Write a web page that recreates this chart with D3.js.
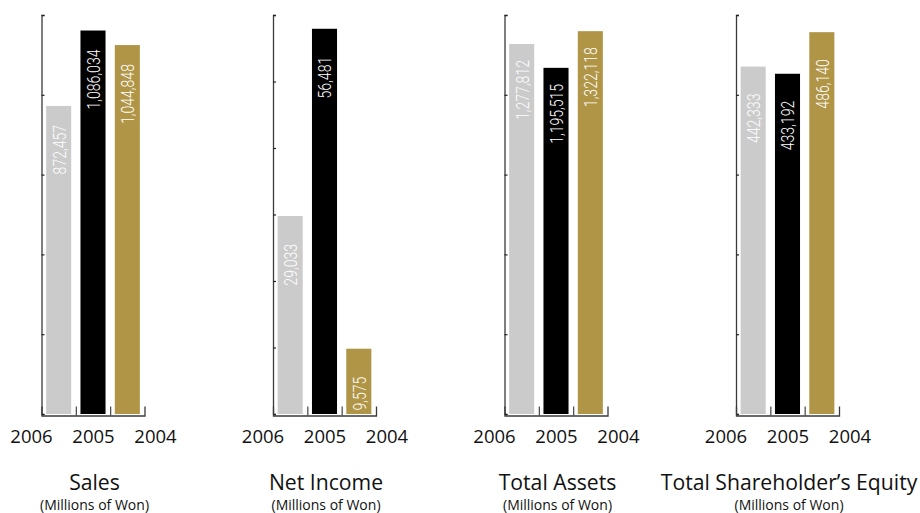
<!DOCTYPE html>
<html>
<head>
<meta charset="utf-8">
<script src="https://cdn.jsdelivr.net/npm/d3@7"></script>
<style>
  html, body { margin: 0; padding: 0; background: #fff; }
  svg { display: block; }
</style>
</head>
<body>
<svg id="chart" width="920" height="513"></svg>
<script>
// ---- data ----
const titles = ["Sales", "Net Income", "Total Assets", "Total Shareholder\u2019s Equity"];
const subtitle = "(Millions of Won)";
const years = ["2006", "2005", "2004"];
const sales = [872457, 1086034, 1044848];
const netIncome = [29033, 56481, 9575];
const totalAssets = [1277812, 1195515, 1322118];
const shareholdersEquity = [442333, 433192, 486140];
const axisMax = [1130000, 58500, 1378000, 508000];
const tickCount = [5, 6, 5, 5];

const seriesList = [sales, netIncome, totalAssets, shareholdersEquity];

// ---- layout / style ----
const colors = ["#cbcbcb", "#000000", "#b09546"];
const labelGap = [19, 28, 16, 27];
const plotTop = 15, plotBase = 414, plotW = 103;

const svg = d3.select("#chart");
const fmt = d3.format(",");

const panelX = d3.scalePoint().domain(titles).range([41.5, 736]);
const x = d3.scaleBand().domain(years).range([0, plotW]).paddingInner(0.27).paddingOuter(0.135);
const yearPos = d3.scalePoint().domain(years).range([-10, 114]);
const boundary = d3.scaleLinear().domain([0, 3]).range([0, plotW]);

titles.forEach((t, i) => {
  const g = svg.append("g").attr("transform", `translate(${panelX(t)},0)`);
  const vals = seriesList[i];
  const y = d3.scaleLinear().domain([0, axisMax[i]]).range([plotBase, plotTop]);

  // bars
  g.selectAll("rect.bar").data(vals).join("rect")
    .attr("class", "bar")
    .attr("x", (d, k) => x(years[k]))
    .attr("width", x.bandwidth())
    .attr("y", d => y(d))
    .attr("height", d => plotBase - y(d))
    .attr("fill", (d, k) => colors[k]);

  // value labels
  g.selectAll("text.val").data(vals).join("text")
    .attr("class", "val")
    .attr("transform", (d, k) =>
      `translate(${x(years[k]) + x.bandwidth() / 2},${y(d) + labelGap[i]}) rotate(-90) scale(0.74,1)`)
    .attr("text-anchor", "end")
    .attr("dy", "0.36em")
    .attr("fill", "#ffffff")
    .style("font-family", "Roboto, 'Liberation Sans', sans-serif")
    .style("font-weight", 300)
    .style("font-size", "19px")
    .text(d => fmt(d));

  // y axis
  const ticks = d3.range(tickCount[i] + 1).map(k => axisMax[i] * k / tickCount[i]);
  const ya = g.append("g")
    .call(d3.axisRight(y).tickValues(ticks).tickSize(3).tickSizeOuter(3).tickFormat(""));
  ya.select(".domain").attr("stroke", "#3a3a3a").attr("stroke-width", 1.3);
  ya.selectAll(".tick line").attr("stroke", "#222").attr("stroke-width", 1.2);

  // x axis (ticks pointing up at band boundaries)
  const xa = g.append("g").attr("transform", `translate(0,${plotBase + 1.5})`)
    .call(d3.axisTop(boundary).tickValues([1, 2]).tickSize(9).tickSizeOuter(9).tickFormat(""));
  xa.select(".domain").attr("stroke", "#3a3a3a").attr("stroke-width", 1.3);
  xa.selectAll(".tick line").attr("stroke", "#444").attr("stroke-width", 1.2);

  // year labels
  g.selectAll("text.yr").data(years).join("text")
    .attr("class", "yr")
    .attr("x", d => yearPos(d))
    .attr("y", 443)
    .attr("text-anchor", "middle")
    .attr("fill", "#111")
    .style("font-family", "'Open Sans', 'Noto Sans', sans-serif")
    .style("font-size", "18.5px")
    .text(d => d);

  // title & subtitle
  g.append("text")
    .attr("x", 53).attr("y", 490)
    .attr("text-anchor", "middle")
    .attr("fill", "#111")
    .style("font-family", "'Open Sans', 'Noto Sans', sans-serif")
    .style("font-size", "21.2px")
    .text(t);
  g.append("text")
    .attr("x", 53).attr("y", 510)
    .attr("text-anchor", "middle")
    .attr("fill", "#111")
    .style("font-family", "'Open Sans', 'Noto Sans', sans-serif")
    .style("font-size", "14px")
    .text(subtitle);
});
</script>
</body>
</html>
